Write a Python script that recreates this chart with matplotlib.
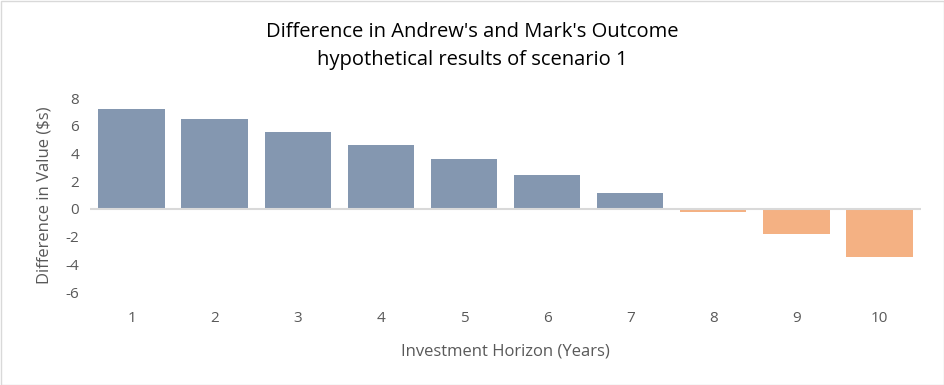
import matplotlib
matplotlib.use("Agg")
import matplotlib.pyplot as plt
from matplotlib.patches import Rectangle

years = ["1", "2", "3", "4", "5", "6", "7", "8", "9", "10"]
diff = [7.2, 6.5, 5.55, 4.6, 3.6, 2.45, 1.15, -0.2, -1.8, -3.45]
yticks = [-6, -4, -2, 0, 2, 4, 6, 8]

plt.rcParams['font.family'] = ['Open Sans', 'DejaVu Sans']

fig = plt.figure(figsize=(9.45, 3.85), dpi=100)
ax = fig.add_axes([90/945, 1-292/385, (921-90)/945, (292-98)/385])

colors = ['#8497B0' if v >= 0 else '#F4B183' for v in diff]
x = list(range(len(years)))
ax.bar(x, diff, width=0.8, color=colors, zorder=2)
ax.axhline(0, color='#D9D9D9', lw=1.5, zorder=3)

ax.set_xlim(-0.5, len(years) - 0.5)
ax.set_ylim(-6, 8)
ax.set_yticks(yticks)
ax.set_yticklabels([str(t) for t in yticks], color='#595959', fontsize=11)
ax.set_xticks(x)
ax.set_xticklabels(years, color='#595959', fontsize=11)
ax.tick_params(length=0)
ax.tick_params(axis='x', pad=14)
ax.tick_params(axis='y', pad=8)
for s in ax.spines.values():
    s.set_visible(False)

ax.set_ylabel("Difference in Value ($s)", color='#595959', fontsize=12, labelpad=9)
ax.set_xlabel("Investment Horizon (Years)", color='#595959', fontsize=12, labelpad=12)

fig.text(0.5, 1-46/385, "Difference in Andrew's and Mark's Outcome\nhypothetical results of scenario 1",
         ha='center', va='center', fontsize=14.5, color='#000000', linespacing=1.55)

fig.patches.append(Rectangle((0.5/945, 0.5/385), 1-1/945, 1-1/385, transform=fig.transFigure,
                             fill=False, edgecolor='#D9D9D9', lw=1))

fig.savefig("out.png", dpi=100)
